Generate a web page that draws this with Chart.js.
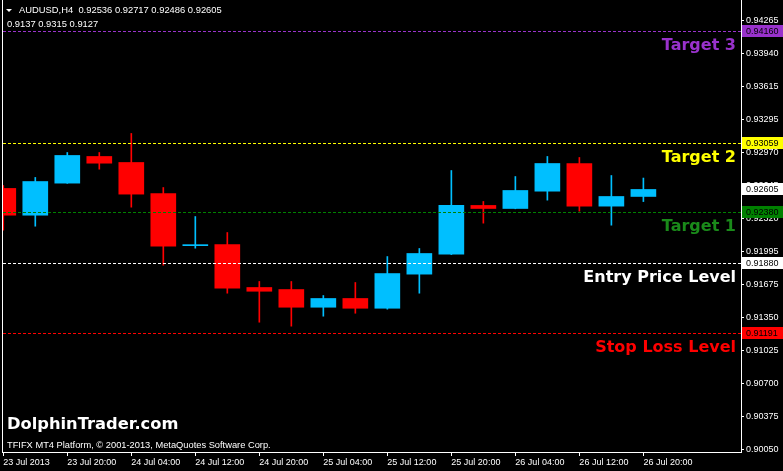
<!DOCTYPE html>
<html><head><meta charset="utf-8">
<script src="https://cdn.jsdelivr.net/npm/chart.js@4.4.0/dist/chart.umd.min.js"></script>
<style>html,body{margin:0;padding:0;background:#000;overflow:hidden}canvas{display:block}</style>
</head><body>
<canvas id="c" width="783" height="471"></canvas>
<script>
// ---- data ----
const symbolTitle = 'AUDUSD,H4';
const headerValues = ['0.92536', '0.92717', '0.92486', '0.92605'];
const indicatorValues = ['0.9137', '0.9315', '0.9127'];
const opens  = [0.92615,0.92352,0.92667,0.92929,0.92870,0.92565,0.92053,0.92064,0.91642,0.91622,0.91448,0.91534,0.91438,0.91773,0.91969,0.92448,0.92418,0.92588,0.92860,0.92441,0.92536];
const highs  = [0.92644,0.92723,0.92968,0.92968,0.93155,0.92624,0.92339,0.92182,0.91701,0.91701,0.91563,0.91691,0.91946,0.92025,0.92791,0.92487,0.92732,0.92929,0.92919,0.92742,0.92717];
const lows   = [0.92205,0.92244,0.92665,0.92804,0.92431,0.91861,0.92028,0.91586,0.91301,0.91262,0.91360,0.91389,0.91429,0.91586,0.91965,0.92274,0.92415,0.92500,0.92392,0.92254,0.92486];
const closes = [0.92352,0.92683,0.92939,0.92863,0.92559,0.92048,0.92061,0.91635,0.91605,0.91448,0.91534,0.91438,0.91779,0.91976,0.92448,0.92418,0.92595,0.92860,0.92441,0.92536,0.92605];
const timeLabels = ['23 Jul 2013','23 Jul 20:00','24 Jul 04:00','24 Jul 12:00','24 Jul 20:00','25 Jul 04:00','25 Jul 12:00','25 Jul 20:00','26 Jul 04:00','26 Jul 12:00','26 Jul 20:00'];
const priceTicks = [0.94265,0.93940,0.93615,0.93295,0.92970,0.92645,0.92320,0.91995,0.91675,0.91350,0.91025,0.90700,0.90375,0.90050];
const levelNames  = ['Target 3','Target 2','Target 1','Entry Price Level','Stop Loss Level'];
const levelValues = [0.94160, 0.93059, 0.92380, 0.91880, 0.91191];
const currentPrice = 0.92605;
const watermark = 'DolphinTrader.com';
const copyright = 'TFIFX MT4 Platform, \u00A9 2001-2013, MetaQuotes Software Corp.';

// ---- styles ----
const BULL = '#00BFFF', BEAR = '#FF0000';
const levelLineColors = ['#9932CC','#FFFF00','#008000','#FFFFFF','#FF0000'];
const levelTextColors = ['#9932CC','#FFFF00','#1A8A1A','#FFFFFF','#FF0000'];
const levelBoxColors  = ['#9932CC','#FFFF00','#008000','#FFFFFF','#FF0000'];
const candleColors = opens.map((o,i)=> closes[i] >= o ? BULL : BEAR);
const idx = opens.map((_,i)=>i);
const AXIS_FONT = {family:'"Liberation Sans", Arial, sans-serif', size:9};

const overlay = {
  id:'overlay',
  afterDatasetsDraw(chart){
    const {ctx, chartArea:a, scales:{y}} = chart;
    ctx.save();
    ctx.strokeStyle='#fff'; ctx.lineWidth=1;
    ctx.beginPath(); ctx.moveTo(a.left+0.5, a.top); ctx.lineTo(a.left+0.5, a.bottom); ctx.stroke();
    levelValues.forEach((v,i)=>{
      const py = Math.round(y.getPixelForValue(v))+0.5;
      ctx.setLineDash([3,2]);
      ctx.strokeStyle = levelLineColors[i];
      ctx.beginPath(); ctx.moveTo(a.left+1, py); ctx.lineTo(a.right, py); ctx.stroke();
      ctx.setLineDash([]);
      ctx.fillStyle = levelTextColors[i];
      ctx.font = 'bold 16px "DejaVu Sans", Verdana, sans-serif';
      ctx.textAlign='right'; ctx.textBaseline='alphabetic';
      ctx.fillText(levelNames[i], a.right-5, py+18.5);
    });
    ctx.restore();
  },
  afterDraw(chart){
    const {ctx, chartArea:a, scales:{y}} = chart;
    ctx.save();
    ctx.font = '9px "Liberation Sans", Arial, sans-serif';
    ctx.textBaseline='middle'; ctx.textAlign='left';
    const box = (v, bg, fg)=>{
      const py = Math.round(y.getPixelForValue(v));
      ctx.fillStyle=bg; ctx.fillRect(a.right+1, py-6, chart.width-a.right-1, 12);
      ctx.fillStyle=fg; ctx.fillText(v.toFixed(5), a.right+5, py+0.5);
    };
    box(currentPrice, '#FFFFFF', '#000');
    levelValues.forEach((v,i)=> box(v, levelBoxColors[i], '#000'));
    // header
    ctx.fillStyle='#fff';
    ctx.beginPath(); ctx.moveTo(6,9); ctx.lineTo(12,9); ctx.lineTo(9,12); ctx.closePath(); ctx.fill();
    ctx.textBaseline='alphabetic';
    ctx.font = '9.4px "Liberation Sans", Arial, sans-serif';
    ctx.fillText(symbolTitle + '  ' + headerValues.join(' '), 19, 13);
    ctx.fillText(indicatorValues.join(' '), 7, 27);
    ctx.font = '9.3px "Liberation Sans", Arial, sans-serif';
    ctx.fillText(copyright, 7, 448);
    ctx.font = 'bold 16.3px "DejaVu Sans", Verdana, sans-serif';
    ctx.fillText(watermark, 7, 429);
    ctx.restore();
  }
};

new Chart(document.getElementById('c'), {
  type:'bar',
  data:{ datasets:[
    { label:'body', data: idx.map(i=>({x:i, y:[opens[i], closes[i]]})), backgroundColor:candleColors,
      grouped:false, maxBarThickness:25, barPercentage:1, categoryPercentage:1, borderWidth:0, minBarLength:1 },
    { label:'wick', data: idx.map(i=>({x:i, y:[lows[i], highs[i]]})), backgroundColor:candleColors,
      grouped:false, maxBarThickness:1, barPercentage:1, categoryPercentage:1, borderWidth:0 }
  ]},
  options:{
    responsive:false, animation:false, devicePixelRatio:1,
    layout:{padding:{left:2, top:0, right:0, bottom:0}},
    plugins:{legend:{display:false}, tooltip:{enabled:false}},
    scales:{
      x:{ type:'linear', min:-0.04, max:23.05, offset:false, bounds:'data', position:'bottom',
        grid:{display:true, drawOnChartArea:false, drawTicks:true, tickLength:4, color:'#fff', offset:false},
        border:{display:true, color:'#fff'},
        ticks:{color:'#fff', font:AXIS_FONT, padding:1, align:'start', autoSkip:false, maxRotation:0,
          callback:(v)=> timeLabels[Math.round(v/2)]},
        afterBuildTicks:(s)=>{ s.ticks = timeLabels.map((t,i)=>({value:i*2})); },
        afterFit:(s)=>{ s.height=19; s.paddingLeft=0; s.paddingRight=0; }
      },
      y:{ type:'linear', position:'right', min:0.90026, max:0.94466, stacked:false, beginAtZero:false, bounds:'data',
        grid:{display:true, drawOnChartArea:false, drawTicks:true, tickLength:3, color:'#fff'},
        border:{display:true, color:'#fff'},
        ticks:{color:'#fff', font:AXIS_FONT, padding:2, callback:(v)=> Number(v).toFixed(5)},
        afterBuildTicks:(s)=>{ s.ticks = priceTicks.map(v=>({value:v})); },
        afterFit:(s)=>{ s.width=42; s.paddingTop=0; s.paddingBottom=0; }
      }
    }
  },
  plugins:[overlay]
});
</script>
</body></html>
